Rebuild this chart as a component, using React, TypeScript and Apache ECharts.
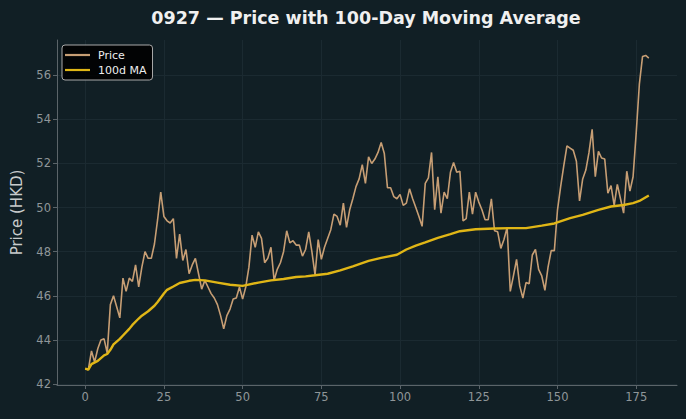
import React, { useEffect, useRef } from "react";
import * as echarts from "echarts";

const titleText = "0927 — Price with 100-Day Moving Average";
const yAxisName = "Price (HKD)";
const seriesNames = ["Price", "100d MA"];
const xTicks = [0, 25, 50, 75, 100, 125, 150, 175];
const yTicks = [42, 44, 46, 48, 50, 52, 54, 56];

const priceValues = [
  42.7, 42.65, 43.5, 43.0, 43.6, 44.0, 44.05, 43.4, 45.6, 46.0,
  45.5, 45.0, 46.8, 46.2, 46.8, 46.65, 47.4, 46.4, 47.3, 48.0,
  47.7, 47.7, 48.35, 49.45, 50.7, 49.6, 49.4, 49.3, 49.5, 47.7,
  48.8, 47.6, 48.1, 47.0, 47.4, 47.7, 47.0, 46.3, 46.7, 46.4,
  46.1, 45.9, 45.6, 45.1, 44.5, 45.1, 45.4, 45.85, 45.9, 46.4,
  45.85, 46.4, 47.3, 48.75, 48.2, 48.9, 48.6, 47.5, 47.7, 48.2,
  46.7, 47.2, 47.5, 48.0, 48.95, 48.4, 48.5, 48.3, 48.3, 47.8,
  48.1, 48.9, 48.0, 46.95, 48.55, 47.65, 48.2, 48.6, 49.0, 49.7,
  49.6, 49.2, 50.2, 49.1, 49.9, 50.4, 50.95, 51.3, 51.95, 51.1,
  52.3, 52.0, 52.2, 52.5, 52.95, 52.45, 50.9, 50.9, 50.5, 50.4,
  50.6, 50.1, 50.2, 50.85, 50.4, 50.0, 49.6, 49.15, 51.1, 51.35,
  52.5, 49.9, 51.4, 49.75, 50.7, 50.4, 51.6, 52.05, 51.6, 51.65,
  49.4, 49.5, 50.7, 49.7, 50.7, 50.25, 49.9, 49.45, 49.45, 50.4,
  48.95, 48.9, 48.15, 48.55, 49.1, 46.2, 46.9, 47.65, 46.45, 45.9,
  46.6, 46.55, 47.85, 48.1, 47.2, 46.9, 46.25, 47.3, 48.05, 48.05,
  49.9, 50.95, 51.9, 52.8, 52.7, 52.6, 52.1, 50.3, 51.3, 51.7,
  52.5, 53.55, 51.4, 52.55, 52.25, 52.2, 50.65, 51.0, 50.1, 51.05,
  50.4, 49.75, 51.65, 50.75, 51.4, 53.4, 55.6, 56.85, 56.9, 56.78,
];

const maDays = [
  0, 1, 2, 4, 6, 7, 8, 9, 11, 12, 14, 15, 17, 18, 20, 22, 23, 25, 26, 28,
  30, 33, 35, 38, 42, 46, 50, 55, 59, 63, 67, 70, 73, 77, 81, 85, 90, 94,
  99, 102, 105, 108, 112, 116, 119, 124, 130, 135, 140, 145, 149, 154, 158,
  163, 167, 171, 174, 176, 179,
];
const maValues = [
  42.7, 42.65, 42.9, 43.05, 43.3, 43.36, 43.55, 43.8, 44.05, 44.2, 44.5, 44.68,
  44.97, 45.1, 45.3, 45.55, 45.72, 46.1, 46.27, 46.42, 46.58, 46.68, 46.72,
  46.7, 46.6, 46.5, 46.45, 46.6, 46.7, 46.76, 46.85, 46.88, 46.93, 47.0, 47.15,
  47.33, 47.58, 47.72, 47.86, 48.1, 48.28, 48.42, 48.63, 48.8, 48.93, 49.02,
  49.05, 49.07, 49.07, 49.18, 49.28, 49.52, 49.67, 49.9, 50.05, 50.12, 50.2,
  50.3, 50.55,
];

const BG = "#111f25";
const AXIS = "#5b6469";
const TICKTXT = "#8f9699";
const GRID = "#1b2a31";
const PRICE_C = "#c79e74";
const MA_C = "#e0b616";
const FONT = "DejaVu Sans";

export default function App() {
  const ref = useRef<HTMLDivElement>(null);
  useEffect(() => {
    if (!ref.current) return;
    const chart = echarts.init(ref.current, undefined, { renderer: "svg" });
    chart.setOption({
      animation: false,
      backgroundColor: BG,
      textStyle: { fontFamily: FONT },
      grid: { left: 57, right: 9, top: 40, bottom: 34, containLabel: false },
      graphic: [
        {
          type: "text",
          x: 366,
          y: 18,
          style: {
            text: titleText,
            fill: "#f0f0f0",
            font: `bold 17.5px "${FONT}"`,
            textAlign: "center",
            textVerticalAlign: "middle",
          },
        },
      ],
      legend: {
        data: [
          { name: seriesNames[0], icon: "rect", itemStyle: { color: PRICE_C } },
          { name: seriesNames[1], icon: "rect", itemStyle: { color: MA_C } },
        ],
        orient: "vertical",
        left: 62,
        top: 45,
        padding: [4, 6, 4, 3],
        itemWidth: 25,
        itemHeight: 2.2,
        itemGap: 3,
        backgroundColor: "rgba(0,0,0,0.88)",
        borderColor: "#a9a9a9",
        borderWidth: 1,
        borderRadius: 3,
        textStyle: {
          color: "#eeeeee",
          fontSize: 11,
          fontFamily: FONT,
          lineHeight: 12,
          padding: [0, 0, 0, 3],
        },
      },
      xAxis: {
        type: "value",
        min: -8.95,
        max: 187.95,
        axisLine: { show: true, onZero: false, lineStyle: { color: AXIS, width: 1 } },
        axisTick: { show: true, length: 4, customValues: xTicks, lineStyle: { color: AXIS } },
        axisLabel: {
          customValues: xTicks,
          color: TICKTXT,
          fontSize: 11.5,
          fontFamily: FONT,
          margin: 6,
        },
        splitLine: { show: true, lineStyle: { color: GRID, width: 1 } },
      },
      yAxis: {
        type: "value",
        min: 41.955,
        max: 57.6,
        name: yAxisName,
        nameLocation: "middle",
        nameGap: 33,
        nameTextStyle: { color: "#c8cbcc", fontSize: 15, fontFamily: FONT },
        axisLine: { show: true, onZero: false, lineStyle: { color: AXIS, width: 1 } },
        axisTick: { show: true, length: 4, customValues: yTicks, lineStyle: { color: AXIS } },
        axisLabel: {
          customValues: yTicks,
          color: TICKTXT,
          fontSize: 11.5,
          fontFamily: FONT,
          margin: 6,
        },
        splitLine: { show: true, lineStyle: { color: GRID, width: 1 } },
      },
      series: [
        {
          name: seriesNames[0],
          type: "line",
          data: priceValues.map((v, i) => [i, v]),
          symbol: "none",
          lineStyle: { color: PRICE_C, width: 1.6 },
          itemStyle: { color: PRICE_C },
          z: 2,
        },
        {
          name: seriesNames[1],
          type: "line",
          data: maDays.map((d, k) => [d, maValues[k]]),
          symbol: "none",
          lineStyle: { color: MA_C, width: 2.4 },
          itemStyle: { color: MA_C },
          z: 3,
        },
      ],
    });
    return () => chart.dispose();
  }, []);
  return (
    <div
      ref={ref}
      style={{ position: "absolute", left: 0, top: 0, width: 686, height: 419 }}
    />
  );
}
